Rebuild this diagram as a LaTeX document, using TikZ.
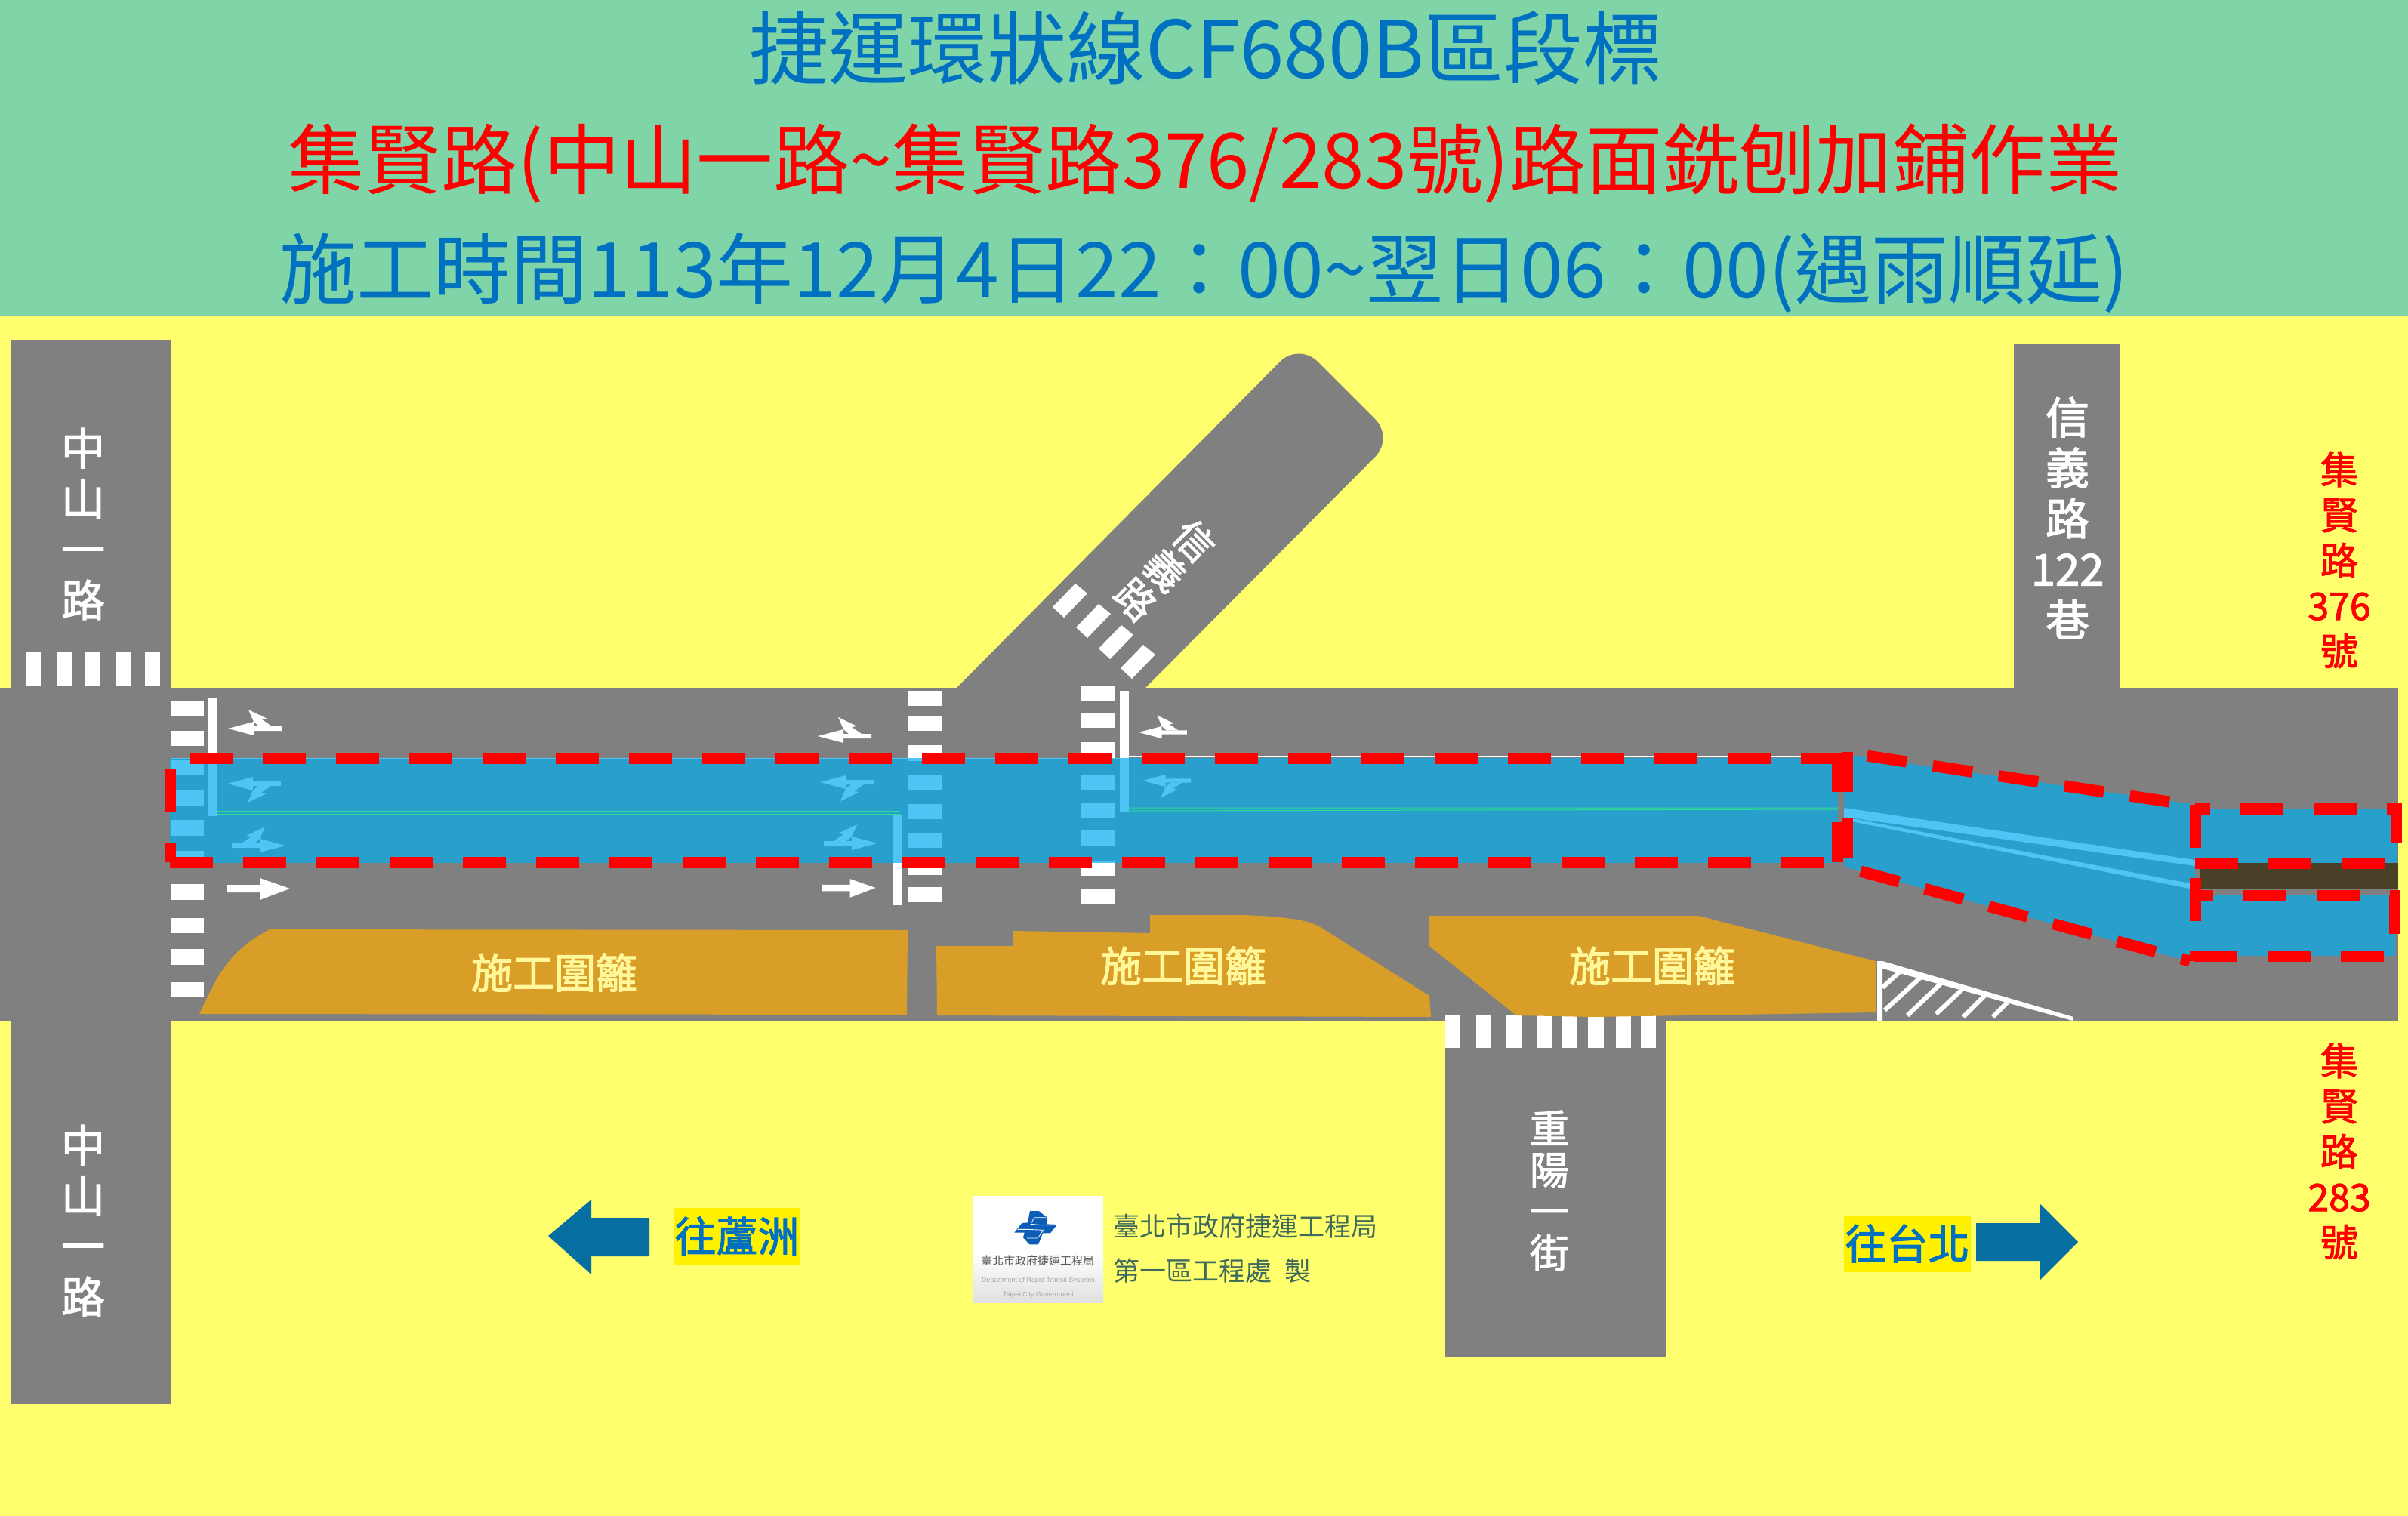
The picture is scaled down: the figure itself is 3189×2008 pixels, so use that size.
\documentclass[tikz,border=0pt]{standalone}
\usepackage{fontspec}
\setmainfont{Noto Sans CJK TC}
\newfontfamily\latinfont{Liberation Sans}
\newfontfamily\medfont[FakeBold=2]{Noto Sans CJK TC}
\definecolor{bggreen}{HTML}{7FD4A8}
\definecolor{bgyellow}{HTML}{FFFF6D}
\definecolor{roadgray}{HTML}{808080}
\definecolor{workblue}{HTML}{299FCB}
\definecolor{markblue}{HTML}{4FC5F5}
\definecolor{fenceorange}{HTML}{D99E28}
\definecolor{fencetext}{HTML}{FFF79A}
\definecolor{medianbrown}{HTML}{4A4028}
\definecolor{titleblue}{HTML}{0070C0}
\definecolor{legendblue}{HTML}{076EA1}
\definecolor{officegreen}{HTML}{3F6B5C}
\definecolor{logoblue}{HTML}{0B5DB5}
\tikzset{
  roadbox/.style={fill=roadgray},
  redline/.style={draw=red,line width=15pt,dash pattern=on 57pt off 40pt},
  redslant/.style={draw=red,line width=15pt,dash pattern=on 53pt off 35pt},
  titleline/.style={anchor=base},
  roadname/.style={white,align=center,font=\medfont\fontsize{58}{67}\selectfont},
  sidename/.style={red,align=center,font=\medfont\fontsize{50}{60}\selectfont},
  fencename/.style={text=fencetext,font=\medfont\fontsize{55}{55}\selectfont},
  directionname/.style={fill=yellow,text=titleblue,inner sep=0pt,minimum width=168pt,minimum height=75pt,font=\medfont\fontsize{55}{55}\selectfont},
  turnarrow/.pic={
    \fill (0,0) -- (34,-9) -- (34,-3) -- (71,-3) -- (71,3) -- (34,3) -- (34,9) -- cycle;
    \fill (27,-25) -- (52,-13) -- (45,-12) -- (58,-3) -- (41,-3) -- (34,-9) -- cycle;
  },
  straightarrow/.pic={
    \fill (0,-5) -- (43,-5) -- (43,-14) -- (83,0) -- (43,15) -- (43,5) -- (0,5) -- cycle;
  },
}
\begin{document}
\begin{tikzpicture}[x=1pt,y=-1pt]
\useasboundingbox (0,0) rectangle (3189,2008);
\fill[bgyellow] (0,0) rectangle (3189,2008);
\fill[bggreen] (0,0) rectangle (3189,419);
% roads
\fill[roadbox] (14,450) rectangle (226,1859);
\fill[roadbox] (0,911) rectangle (3176,1353);
\fill[roadbox] (2667,456) rectangle (2807,915);
\fill[roadbox] (1914,1350) rectangle (2207,1797);
\fill[roadbox] (1263,915) [rounded corners=35pt] -- (1720,454) -- (1846,580) [sharp corners] -- (1513,915) -- cycle;
% crossings
\foreach \x in {34,75,113,153,192} \fill[white] (\x,863) rectangle +(20,45);
\foreach \dx/\dy in {0/0,31/27,61/55,90/81}
  \fill[white,shift={(\dx,\dy)}] (1424,773) -- (1440,786) -- (1409,818) -- (1394,804) -- cycle;
\foreach \y/\h in {929/20,968/20,1171/21,1216/20,1257/21,1301/20} \fill[white] (226,\y) rectangle +(44,\h);
\foreach \y/\h in {915/20,948/20,987/20,1140/19,1175/20} \fill[white] (1203,\y) rectangle +(45,\h);
\foreach \y/\h in {909/20,944/20,983/21,1140/20,1177/21} \fill[white] (1431,\y) rectangle +(46,\h);
\foreach \x/\w in {1914/20,1955/20,1995/21,2035/20,2069/20,2103/21,2140/20,2173/20} \fill[white] (\x,1344) rectangle +(\w,44);
\fill[white] (275,924) rectangle (287,1004);
\fill[white] (1183,1143) rectangle (1195,1199);
\fill[white] (1483,915) rectangle (1495,1004);
% work area
\fill[workblue] (225,1004) rectangle (2434,1143);
\fill[workblue] (2442,999) -- (2901,1065) -- (2907,1072) -- (3175,1072) -- (3175,1143) -- (2907,1143) -- (2907,1186)
  -- (3172,1186) -- (3172,1266) -- (2907,1266) -- (2887,1270) -- (2442,1148) -- cycle;
\fill[medianbrown] (2913,1143) rectangle (3176,1178);
\fill[markblue] (2442,1070) -- (2907,1139) -- (2907,1147) -- (2442,1082) -- cycle;
\fill[markblue] (2442,1082) -- (2900,1170) -- (2900,1177) -- (2442,1086) -- cycle;
\foreach \y/\h in {1006/21,1047/20,1086/21,1127/16} \fill[markblue] (226,\y) rectangle +(44,\h);
\foreach \y/\h in {1004/4,1027/20,1065/20,1103/20} \fill[markblue] (1203,\y) rectangle +(45,\h);
\foreach \y/\h in {1027/20,1064/20,1100/21,1140/3} \fill[markblue] (1432,\y) rectangle +(45,\h);
\fill[markblue] (275,1004) rectangle (287,1081);
\fill[markblue] (1183,1080) rectangle (1195,1143);
\fill[markblue] (1483,1004) rectangle (1495,1075);
\draw[markblue!60!green,line width=1pt] (287,1074) -- (1192,1074) (287,1078) -- (1192,1078);
\draw[markblue!60!green,line width=1pt] (1495,1070) -- (2434,1070) (1495,1074) -- (2434,1072);
\draw[white,line width=1pt] (270,1144) -- (1183,1144) (1495,1002) -- (2434,1002);
\draw[markblue,line width=1pt] (226,1004) -- (1483,1004) (1495,1144) -- (2434,1144);
% lane arrows
\pic[white] at (302,965) {turnarrow};
\pic[white] at (1083,975) {turnarrow};
\pic[white,scale=.9] at (1508,970) {turnarrow};
\pic[markblue,yscale=-1] at (301,1038) {turnarrow};
\pic[markblue,yscale=-1] at (1086,1036) {turnarrow};
\pic[markblue,yscale=-.9,xscale=.9] at (1513,1034) {turnarrow};
\pic[markblue,xscale=-1] at (378,1120) {turnarrow};
\pic[markblue,xscale=-1] at (1162,1117) {turnarrow};
\pic[white] at (301,1177) {straightarrow};
\pic[white,scale=.85] at (1089,1176) {straightarrow};
% fences
\fill[fenceorange] (264,1343) .. controls (288,1293) and (300,1262) .. (357,1231) -- (1202,1232) -- (1201,1344) -- cycle;
\fill[fenceorange] (1240,1253) -- (1342,1253) -- (1342,1233) -- (1523,1236) -- (1523,1212) -- (1645,1212)
  .. controls (1700,1214) and (1730,1218) .. (1747,1227) -- (1893,1319) -- (1895,1347) -- (1241,1345) -- cycle;
\fill[fenceorange] (1893,1213) -- (2249,1213) -- (2300,1226) -- (2484,1273) -- (2484,1341) -- (2110,1347) -- (2008,1345) -- (1893,1253) -- cycle;
\node[fencename] (fenceleft) at (734,1288) {施工圍籬};
\node[fencename] (fencemid) at (1567,1279) {施工圍籬};
\node[fencename] (fenceright) at (2188,1279) {施工圍籬};
% hatched corner
\fill[white] (2486,1273) -- (2493,1273) -- (2746,1347) -- (2745,1352) -- (2490,1282) -- (2493,1282) -- (2493,1352) -- (2486,1352) -- cycle;
\draw[white,line width=6pt] (2515,1288) -- (2493,1308) (2543,1295) -- (2496,1338) (2571,1302) -- (2526,1345)
  (2599,1310) -- (2564,1343) (2629,1318) -- (2600,1347) (2659,1327) -- (2639,1347);
% red outline of the work
\draw[redline] (251,1004) -- (2446,1004);
\draw[redline] (225,1142) -- (2433,1142);
\draw[redline,dash phase=31pt] (225,1142) -- (225,1004);
\draw[redline,dash phase=12pt] (2433,1004) -- (2433,1142);
\draw[redslant] (2446,996) -- (2446,1148);
\draw[redslant,dash phase=-27pt] (2446,997) -- (2905,1067);
\draw[redslant] (2464,1154) -- (2900,1273);
\draw[redline,dash phase=-1pt] (2907,1065) -- (2907,1273);
\draw[redline,dash phase=37pt] (2907,1071) -- (3173,1071) -- (3173,1117);
\draw[redline] (2907,1143) -- (3158,1143);
\draw[redline,dash phase=33pt] (2907,1186) -- (3171,1186) -- (3171,1237);
\draw[redline,dash phase=-5pt] (2901,1266) -- (3159,1266);
% titles
\node[titleline,titleblue,font=\fontsize{105}{105}\selectfont] (titleone) at (1597,103) {捷運環狀線CF680B區段標};
\node[titleline,red,font=\fontsize{101.4}{101}\selectfont] (titletwo) at (1596,249) {集賢路(中山一路\textasciitilde 集賢路376/283號)路面銑刨加鋪作業};
\node[titleline,titleblue,font=\fontsize{102}{102}\selectfont] (titlethree) at (1595,394) {施工時間113年12月4日22：00\textasciitilde 翌日06：00(遇雨順延)};
% road names
\node[roadname] (zhongshanup) at (110,694) {中\\山\\一\\路};
\node[roadname] (zhongshandown) at (110,1617) {中\\山\\一\\路};
\node[roadname] (lane) at (2738,686) {信\\義\\路\\122\\巷};
\node[roadname,rotate=-45,font=\medfont\fontsize{52}{55}\selectfont] (xinyi) at (1543,755) {信\\義\\路};
\node[roadname,font=\medfont\fontsize{52}{55}\selectfont] (chongyang) at (2052,1577) {重\\陽\\一\\街};
\node[sidename] (noup) at (3098,742) {集\\賢\\路\\376\\號};
\node[sidename] (nodown) at (3098,1525) {集\\賢\\路\\283\\號};
% directions
\fill[legendblue] (726,1637) -- (783,1589) -- (783,1613) -- (860,1613) -- (860,1664) -- (783,1664) -- (783,1688) -- cycle;
\fill[legendblue] (2752,1645) -- (2702,1595) -- (2702,1620) -- (2617,1620) -- (2617,1670) -- (2702,1670) -- (2702,1695) -- cycle;
\node[directionname] (luzhou) at (976,1637) {往蘆洲};
\node[directionname] (taipei) at (2526,1647) {往台北};
% office logo
\fill[white] (1288,1584) rectangle (1461,1660);
\shade[top color=white,bottom color=black!12] (1288,1660) rectangle (1461,1725);
\begin{scope}[shift={(1285,1580)},scale=1/3]
\fill[logoblue] (237,72) -- (272,72) -- (305,98) -- (302,124) -- (345,126) -- (318,160) -- (288,160)
  -- (270,205) -- (235,205) -- (210,178) -- (215,158) -- (175,158) -- (205,120) -- (228,118) -- cycle;
\draw[white,line width=.8pt] (300,98) -- (254,98) -- (240,124) -- (285,128) -- (330,128);
\draw[white,line width=.8pt] (188,145) -- (232,145) -- (290,148) -- (268,180) -- (225,180);
\end{scope}
\node[black!65,font=\fontsize{15}{15}\selectfont,inner sep=0pt] (logochinese) at (1374,1670) {臺北市政府捷運工程局};
\node[black!35,font=\latinfont\fontsize{9}{9}\selectfont,inner sep=0pt] (logodept) at (1375,1696) {Department of Rapid Transit Systems};
\node[black!35,font=\latinfont\fontsize{9}{9}\selectfont,inner sep=0pt] (logocity) at (1375,1715) {Taipei City Government};
\node[officegreen,anchor=west,align=left,inner sep=0pt,font=\fontsize{35}{59}\selectfont] (office) at (1474,1654) {臺北市政府捷運工程局\\第一區工程處\hspace{17pt}製};
\end{tikzpicture}
\end{document}
